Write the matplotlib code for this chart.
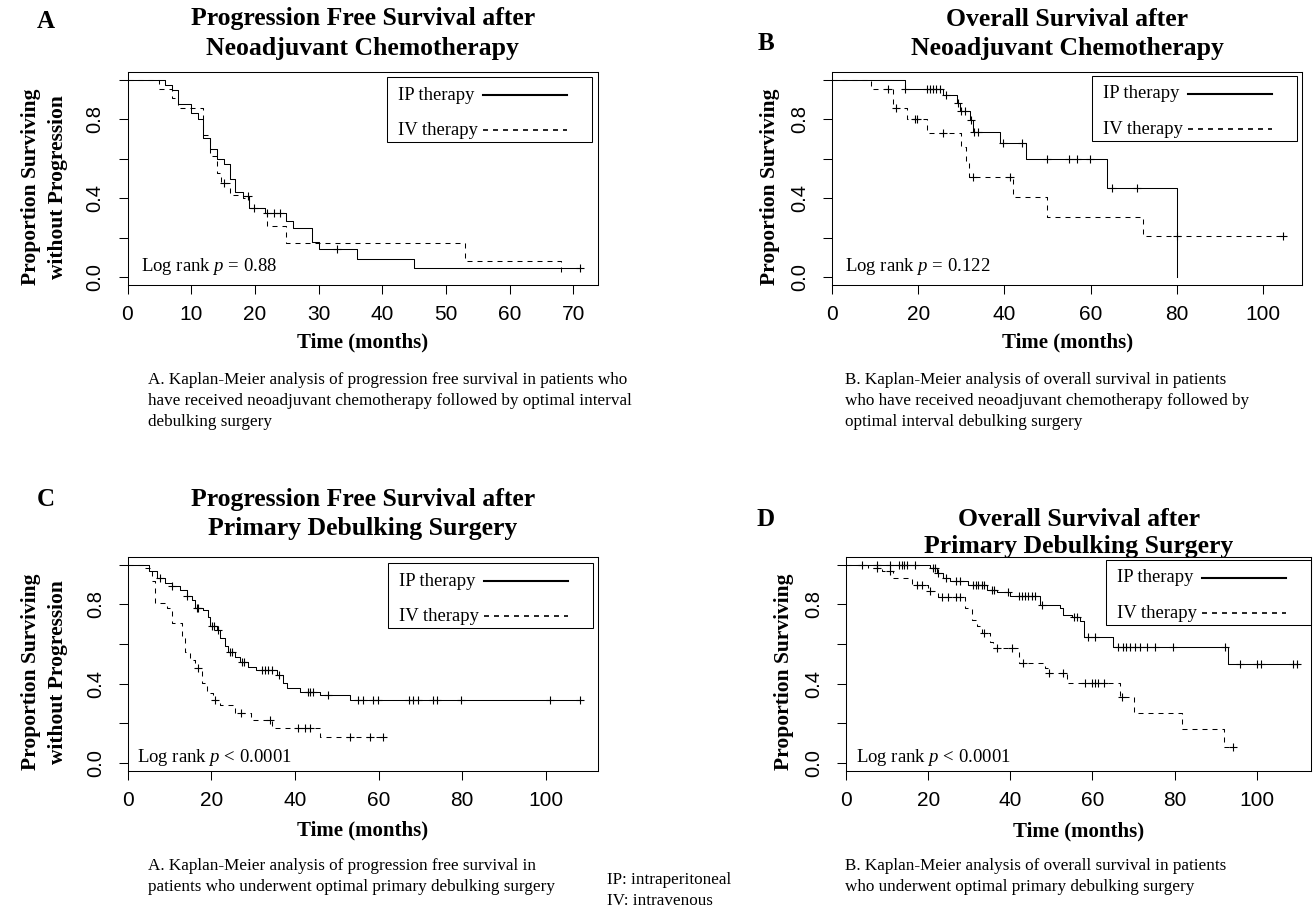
import numpy as np
import matplotlib.pyplot as plt
from matplotlib.lines import Line2D
from matplotlib.patches import Rectangle

W, H = 1315, 906
SERIF = 'Liberation Serif'
SANS = 'Liberation Sans'
plt.rcParams['mathtext.fontset'] = 'custom'
plt.rcParams['mathtext.rm'] = SERIF
plt.rcParams['mathtext.it'] = SERIF + ':italic'

# ---- Panel A: PFS after neoadjuvant chemo (step times / survival after each drop)
a_ip_t = [0, 5.9, 7.0, 8.0, 10.0, 11.0, 11.9, 13.0, 14.0, 15.1, 16.1, 16.9, 18.1, 19.0, 21.6, 24.9, 26.0, 29.0, 30.0, 36.0, 45.0]
a_ip_s = [1.0, 0.974, 0.949, 0.876, 0.83, 0.80, 0.704, 0.648, 0.597, 0.572, 0.50, 0.434, 0.412, 0.349, 0.324, 0.282, 0.248, 0.176, 0.142, 0.093, 0.046]
a_ip_cens = [18.9, 19.8, 21.9, 23.0, 23.9, 32.9, 71.1]
a_iv_t = [0, 4.9, 7.0, 8.0, 11.9, 13.0, 14.0, 14.6, 16.1, 18.1, 19.0, 21.9, 24.9, 53.0, 68.0]
a_iv_s = [1.0, 0.952, 0.906, 0.859, 0.72, 0.614, 0.527, 0.476, 0.417, 0.40, 0.35, 0.259, 0.172, 0.084, 0.0]
a_iv_cens = [15.1]

# ---- Panel B: OS after neoadjuvant chemo
b_ip_t = [0, 16.9, 25.8, 28.9, 29.6, 32.0, 32.7, 38.9, 45.0, 63.9, 80.0]
b_ip_s = [1.0, 0.952, 0.923, 0.884, 0.844, 0.797, 0.738, 0.678, 0.601, 0.45, 0.0]
b_ip_cens = [16.9, 21.9, 22.7, 23.5, 24.2, 25.0, 26.5, 29.3, 30.0, 30.8, 32.3, 32.9, 33.9,
             39.7, 44.0, 49.9, 55.0, 56.9, 59.8, 64.9, 70.8]
b_iv_t = [0, 8.9, 14.2, 17.3, 21.9, 30.0, 31.0, 31.8, 41.9, 49.9, 72.1]
b_iv_s = [1.0, 0.952, 0.856, 0.80, 0.732, 0.658, 0.59, 0.51, 0.408, 0.307, 0.206]
b_iv_cens = [13.0, 14.9, 19.2, 19.7, 25.8, 32.7, 41.3, 80.0, 104.7]

# ---- Panel C: PFS after primary debulking
c_ip_t = [0, 5.2, 6.9, 8.9, 10.5, 12.5, 14.1, 15.3, 16.1, 18.1, 19.1, 19.7, 21.3, 22.1, 23.3, 24.1,
          25.7, 26.9, 28.8, 30.8, 35.6, 37.1, 38.0, 41.2, 46.0, 53.2]
c_ip_s = [1.0, 0.966, 0.932, 0.907, 0.890, 0.873, 0.843, 0.823, 0.781, 0.772, 0.738, 0.691, 0.671,
          0.629, 0.587, 0.561, 0.536, 0.511, 0.485, 0.468, 0.443, 0.401, 0.376, 0.359, 0.342, 0.317]
c_ip_cens = [7.7, 10.5, 14.1, 16.5, 16.9, 20.1, 20.6, 21.7, 24.5, 24.9, 27.3, 27.8, 32.0, 32.8, 33.6,
             34.4, 36.3, 43.2, 43.7, 44.4, 48.0, 55.1, 56.2, 58.7, 59.9, 67.3, 68.3, 69.5, 73.1, 73.9,
             79.8, 101.0, 108.1]
c_iv_t = [0, 3.7, 5.7, 6.5, 9.3, 10.5, 12.9, 13.7, 14.9, 16.1, 17.7, 18.9, 20.5, 22.1, 25.7, 29.6, 34.4, 46.0]
c_iv_s = [1.0, 0.983, 0.916, 0.806, 0.781, 0.705, 0.629, 0.561, 0.519, 0.477, 0.401, 0.350, 0.316,
          0.291, 0.252, 0.215, 0.173, 0.131]
c_iv_cens = [16.9, 20.9, 27.0, 34.0, 40.8, 42.4, 43.6, 53.1, 57.9, 61.1]

# ---- Panel D: OS after primary debulking
d_ip_t = [0, 20.5, 22.1, 23.7, 25.3, 29.8, 34.3, 36.7, 39.9, 47.2, 52.1, 52.8, 55.0, 57.0, 58.0, 65.1, 92.9]
d_ip_s = [1.0, 0.983, 0.958, 0.932, 0.916, 0.899, 0.873, 0.860, 0.840, 0.797, 0.781, 0.747, 0.738,
          0.713, 0.637, 0.583, 0.499]
d_ip_cens = [3.8, 7.5, 10.7, 13.0, 13.6, 14.1, 14.8, 16.8, 21.3, 21.7, 22.5, 24.4, 26.9, 27.8, 31.0,
             31.7, 32.2, 33.0, 33.6, 35.5, 36.0, 39.5, 42.0, 42.8, 43.6, 44.4, 45.2, 46.0, 47.6, 55.4,
             56.2, 59.0, 60.6, 66.3, 67.5, 68.2, 69.2, 70.4, 71.6, 73.2, 75.2, 79.7, 92.3, 95.9, 100.0,
             101.0, 108.9, 109.9]
d_iv_t = [0, 5.4, 8.7, 11.5, 16.0, 20.0, 22.5, 29.0, 30.6, 31.8, 33.0, 35.1, 35.9, 42.0, 48.5, 49.3,
          53.7, 66.6, 70.0, 81.7, 91.9]
d_iv_s = [1.0, 0.983, 0.966, 0.932, 0.899, 0.865, 0.836, 0.781, 0.72, 0.69, 0.655, 0.61, 0.578, 0.502,
          0.477, 0.451, 0.401, 0.333, 0.252, 0.168, 0.08]
d_iv_cens = [7.5, 10.7, 17.2, 18.4, 20.5, 23.3, 24.9, 26.9, 27.8, 33.6, 36.7, 40.3, 43.0, 49.5, 52.8,
             58.2, 59.8, 60.6, 61.4, 62.7, 67.1, 94.3]

legend_labels = ['IP therapy', 'IV therapy']
pvals = ['= 0.88', '= 0.122', '< 0.0001', '< 0.0001']

fig = plt.figure(figsize=(W / 100, H / 100), dpi=100)


def fx(x):
    return x / W


def fy(y):
    return 1 - y / H


def ftext(x, y, s, **kw):
    kw.setdefault('family', SERIF)
    kw.setdefault('ha', 'center')
    kw.setdefault('va', 'center')
    fig.text(fx(x), fy(y), s, **kw)


def km_at(times, surv, t):
    idx = np.searchsorted(times, t, side='right') - 1
    return np.asarray(surv)[idx]


def draw_km(ax, times, surv, cens, ls):
    end = max(times[-1], max(cens))
    x = list(times) + [end]
    y = list(surv) + [surv[-1]]
    ax.step(x, y, where='post', color='black', lw=0.75, linestyle=ls)
    ax.plot(cens, km_at(times, surv, cens), linestyle='none', marker='+',
            ms=5.5, mew=0.8, color='black')


DASH = (0, (4.8, 4.8))

# box = (left, top, right, bottom) in pixels; leg = legend box top-left; lr = log rank text pos
panels = [
    dict(box=(127.5, 72, 597.7, 285), xmax=73.8, xticks=range(0, 71, 10),
         ip=(a_ip_t, a_ip_s, a_ip_cens), iv=(a_iv_t, a_iv_s, a_iv_cens),
         leg=(386.7, 77.3), lr=(141, 266.5)),
    dict(box=(832.3, 72, 1302.3, 285), xmax=109.2, xticks=range(0, 101, 20),
         ip=(b_ip_t, b_ip_s, b_ip_cens), iv=(b_iv_t, b_iv_s, b_iv_cens),
         leg=(1091.7, 76), lr=(845, 266.5)),
    dict(box=(127.7, 556.7, 597.7, 770.7), xmax=112.4, xticks=range(0, 101, 20),
         ip=(c_ip_t, c_ip_s, c_ip_cens), iv=(c_iv_t, c_iv_s, c_iv_cens),
         leg=(387.7, 563.3), lr=(137, 758)),
    dict(box=(846, 556.7, 1311, 770.7), xmax=113.2, xticks=range(0, 101, 20),
         ip=(d_ip_t, d_ip_s, d_ip_cens), iv=(d_iv_t, d_iv_s, d_iv_cens),
         leg=(1106, 560), lr=(856, 758)),
]

for i, p in enumerate(panels):
    l, t, r, b = p['box']
    ax = fig.add_axes([fx(l), fy(b), (r - l) / W, (b - t) / H])
    draw_km(ax, *p['ip'], ls='-')
    draw_km(ax, *p['iv'], ls=DASH)
    ax.set_xlim(0, p['xmax'])
    ax.set_ylim(-0.04, 1.04)
    ax.set_xticks(list(p['xticks']))
    ax.set_xticklabels([str(v) for v in p['xticks']], family=SANS, fontsize=15)
    ax.set_yticks([0, 0.2, 0.4, 0.6, 0.8, 1.0])
    ax.set_yticklabels(['0.0', '', '0.4', '', '0.8', ''], family=SANS, fontsize=14.5,
                       rotation=90, va='center')
    ax.tick_params(axis='x', length=6.5, width=0.75, pad=8)
    ax.tick_params(axis='y', length=6.5, width=0.75, pad=10)
    for s in ax.spines.values():
        s.set_linewidth(0.75)
    ftext(p['lr'][0], p['lr'][1], r'Log rank $p$ ' + pvals[i], ha='left', fontsize=13.5)
    # legend: text on the left, line sample on the right, square black frame
    gx, gy = p['leg']
    fig.add_artist(Rectangle((fx(gx), fy(gy + 65)), 205 / W, 65 / H, transform=fig.transFigure,
                             fill=False, edgecolor='black', lw=0.75))
    for k, (lab, ls, lw) in enumerate(zip(legend_labels, ['-', (0, (3, 3))], [1.5, 1.2])):
        yy = gy + 18 + 35 * k
        ftext(gx + 11, yy, lab, ha='left', fontsize=13.4)
        fig.add_artist(Line2D([fx(gx + 96), fx(gx + 180)], [fy(yy), fy(yy)],
                              transform=fig.transFigure, color='black', lw=lw, linestyle=ls))

# titles, panel letters, axis labels
TS = 18.5
ftext(362.6, 19, 'Progression Free Survival after', fontsize=TS, weight='bold')
ftext(362.6, 48, 'Neoadjuvant Chemotherapy', fontsize=TS, weight='bold')
ftext(1067.3, 19, 'Overall Survival after', fontsize=TS, weight='bold')
ftext(1067.3, 48, 'Neoadjuvant Chemotherapy', fontsize=TS, weight='bold')
ftext(362.7, 499, 'Progression Free Survival after', fontsize=TS, weight='bold')
ftext(362.7, 528, 'Primary Debulking Surgery', fontsize=TS, weight='bold')
ftext(1078.5, 519, 'Overall Survival after', fontsize=TS, weight='bold')
ftext(1078.5, 547, 'Primary Debulking Surgery', fontsize=TS, weight='bold')

ftext(46, 21, 'A', fontsize=18, weight='bold')
ftext(766, 44, 'B', fontsize=18, weight='bold')
ftext(46, 499, 'C', fontsize=18, weight='bold')
ftext(766, 519, 'D', fontsize=18, weight='bold')

YS = 15.5
ftext(31, 187, 'Proportion Surviving', fontsize=YS, weight='bold', rotation=90)
ftext(58, 187, 'without Progression', fontsize=YS, weight='bold', rotation=90)
ftext(770, 187, 'Proportion Surviving', fontsize=YS, weight='bold', rotation=90)
ftext(31, 672, 'Proportion Surviving', fontsize=YS, weight='bold', rotation=90)
ftext(58, 672, 'without Progression', fontsize=YS, weight='bold', rotation=90)
ftext(784, 672, 'Proportion Surviving', fontsize=YS, weight='bold', rotation=90)

ftext(362.6, 342, 'Time (months)', fontsize=15, weight='bold')
ftext(1067.3, 342, 'Time (months)', fontsize=15, weight='bold')
ftext(362.7, 830, 'Time (months)', fontsize=15, weight='bold')
ftext(1078.5, 831, 'Time (months)', fontsize=15, weight='bold')

# captions
cap_a = ['A. Kaplan-Meier analysis of progression free survival in patients who',
         'have received neoadjuvant chemotherapy followed by optimal interval',
         'debulking surgery']
cap_b = ['B. Kaplan-Meier analysis of overall survival in patients',
         'who have received neoadjuvant chemotherapy followed by',
         'optimal interval debulking surgery']
cap_c = ['A. Kaplan-Meier analysis of progression free survival in',
         'patients who underwent optimal primary debulking surgery']
cap_d = ['B. Kaplan-Meier analysis of overall survival in patients',
         'who underwent optimal primary debulking surgery']
abbrev = ['IP: intraperitoneal', 'IV: intravenous']

for x0, y0, lines in [(148, 380, cap_a), (845, 380, cap_b), (148, 866, cap_c),
                      (845, 866, cap_d), (607, 880, abbrev)]:
    for k, s in enumerate(lines):
        ftext(x0, y0 + 21 * k, s, ha='left', fontsize=12.3)

fig.savefig('out.png', dpi=100)
